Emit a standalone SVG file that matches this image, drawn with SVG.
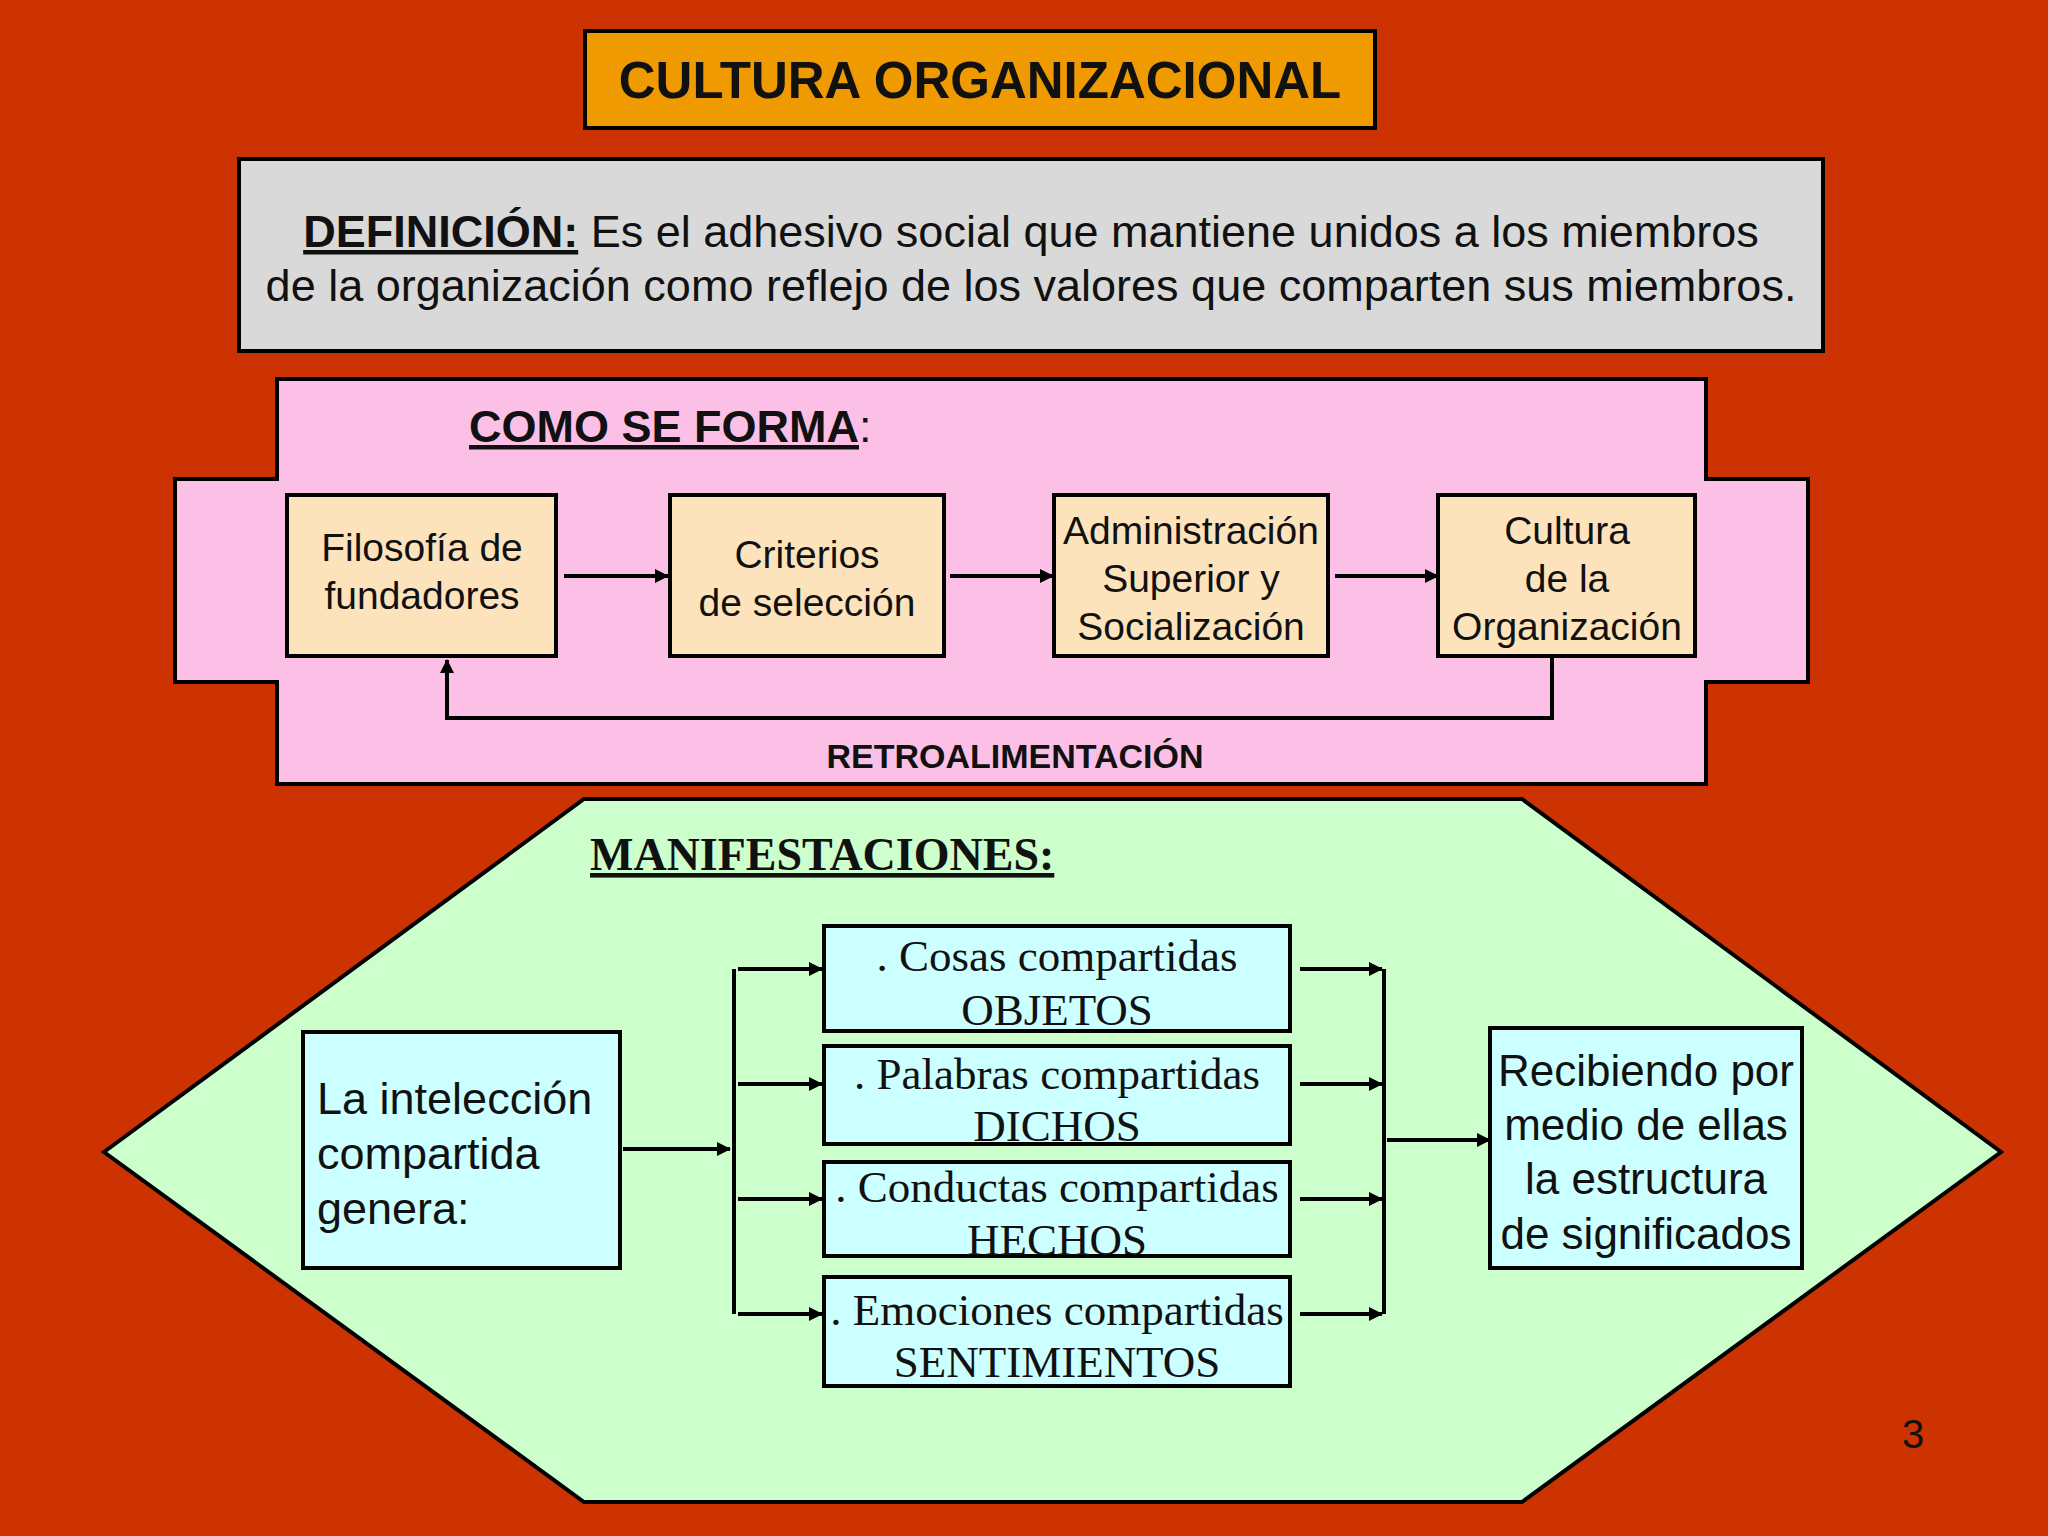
<svg xmlns="http://www.w3.org/2000/svg" width="2048" height="1536" viewBox="0 0 2048 1536">
<style>
.b{stroke:#000;stroke-width:4}
.s{font-family:"Liberation Sans",Arial,sans-serif;fill:#111}
.r{font-family:"Liberation Serif","Times New Roman",serif;fill:#111}
.l{stroke:#000;stroke-width:4;fill:none}
.a{stroke:#000;stroke-width:4;fill:none;marker-end:url(#ah)}
</style>
<defs><marker id="ah" markerWidth="14" markerHeight="14" refX="13" refY="7" orient="auto" markerUnits="userSpaceOnUse"><path d="M0,0 L14,7 L0,14 z" fill="#000"/></marker></defs>
<rect width="2048" height="1536" fill="#CC3300"/>
<g id="title"><rect class="b" x="585" y="31" width="790" height="97" fill="#EE9A00"/><text class="s" x="980" y="98" font-size="51" font-weight="bold" text-anchor="middle">CULTURA ORGANIZACIONAL</text></g>
<g id="definicion"><rect class="b" x="239" y="159" width="1584" height="192" fill="#D9D9D9"/>
<text class="s" x="1031" y="247" font-size="45" text-anchor="middle"><tspan font-weight="bold" text-decoration="underline">DEFINICIÓN:</tspan> Es el adhesivo social que mantiene unidos a los miembros</text>
<text class="s" x="1031" y="301" font-size="45" text-anchor="middle">de la organización como reflejo de los valores que comparten sus miembros.</text></g>
<g id="forma"><polygon class="b" fill="#FCC0E6" points="277,379 1706,379 1706,479 1808,479 1808,682 1706,682 1706,784 277,784 277,682 175,682 175,479 277,479"/>
<text class="s" x="469" y="442" font-size="45" font-weight="bold"><tspan text-decoration="underline">COMO SE FORMA</tspan><tspan font-weight="normal">:</tspan></text>
<text class="s" x="1015" y="768" font-size="34" font-weight="bold" text-anchor="middle">RETROALIMENTACIÓN</text></g>
<g id="n1"><rect class="b" x="287" y="495" width="269" height="161" fill="#FDE3BB"/><text class="s" font-size="39" text-anchor="middle"><tspan x="422" y="561">Filosofía de</tspan><tspan x="422" y="609">fundadores</tspan></text></g>
<g id="n2"><rect class="b" x="670" y="495" width="274" height="161" fill="#FDE3BB"/><text class="s" font-size="39" text-anchor="middle"><tspan x="807" y="568">Criterios</tspan><tspan x="807" y="616">de selección</tspan></text></g>
<g id="n3"><rect class="b" x="1054" y="495" width="274" height="161" fill="#FDE3BB"/><text class="s" font-size="39" text-anchor="middle"><tspan x="1191" y="544">Administración</tspan><tspan x="1191" y="592">Superior y</tspan><tspan x="1191" y="640">Socialización</tspan></text></g>
<g id="n4"><rect class="b" x="1438" y="495" width="257" height="161" fill="#FDE3BB"/><text class="s" font-size="39" text-anchor="middle"><tspan x="1567" y="544">Cultura</tspan><tspan x="1567" y="592">de la</tspan><tspan x="1567" y="640">Organización</tspan></text></g>
<g id="manif"><polygon class="b" fill="#CCFFCC" points="104,1152 584,799 1522,799 2001,1152 1522,1502 584,1502"/>
<text class="r" x="590" y="870" font-size="46" font-weight="bold" text-decoration="underline">MANIFESTACIONES:</text></g>
<g id="m0"><rect class="b" x="303" y="1032" width="317" height="236" fill="#CCFFFF"/><text class="s" font-size="45"><tspan x="317" y="1114">La intelección</tspan><tspan x="317" y="1169">compartida</tspan><tspan x="317" y="1224">genera:</tspan></text></g>
<g id="m1"><rect class="b" x="824" y="926" width="466" height="105" fill="#CCFFFF"/><text class="r" font-size="45" text-anchor="middle"><tspan x="1057" y="971">. Cosas compartidas</tspan><tspan x="1057" y="1025">OBJETOS</tspan></text></g>
<g id="m2"><rect class="b" x="824" y="1046" width="466" height="98" fill="#CCFFFF"/><text class="r" font-size="45" text-anchor="middle"><tspan x="1057" y="1089">. Palabras compartidas</tspan><tspan x="1057" y="1141">DICHOS</tspan></text></g>
<g id="m3"><rect class="b" x="824" y="1162" width="466" height="94" fill="#CCFFFF"/><text class="r" font-size="45" text-anchor="middle"><tspan x="1057" y="1202">. Conductas compartidas</tspan><tspan x="1057" y="1255">HECHOS</tspan></text></g>
<g id="m4"><rect class="b" x="824" y="1277" width="466" height="109" fill="#CCFFFF"/><text class="r" font-size="45" text-anchor="middle"><tspan x="1057" y="1325">. Emociones compartidas</tspan><tspan x="1057" y="1377">SENTIMIENTOS</tspan></text></g>
<g id="m5"><rect class="b" x="1490" y="1028" width="312" height="240" fill="#CCFFFF"/><text class="s" font-size="44" text-anchor="middle"><tspan x="1646" y="1086">Recibiendo por</tspan><tspan x="1646" y="1140">medio de ellas</tspan><tspan x="1646" y="1194">la estructura</tspan><tspan x="1646" y="1249">de significados</tspan></text></g>
<g id="connectors">
<line class="a" x1="564" y1="576" x2="668" y2="576"/>
<line class="a" x1="950" y1="576" x2="1053" y2="576"/>
<line class="a" x1="1335" y1="576" x2="1438" y2="576"/>
<polyline class="a" points="1552,656 1552,718 447,718 447,660"/>
<line class="a" x1="623" y1="1149" x2="730" y2="1149"/>
<line class="l" x1="734" y1="969" x2="734" y2="1314"/>
<line class="a" x1="738" y1="969" x2="822" y2="969"/>
<line class="a" x1="738" y1="1084" x2="822" y2="1084"/>
<line class="a" x1="738" y1="1199" x2="822" y2="1199"/>
<line class="a" x1="738" y1="1314" x2="822" y2="1314"/>
<line class="a" x1="1300" y1="969" x2="1382" y2="969"/>
<line class="a" x1="1300" y1="1084" x2="1382" y2="1084"/>
<line class="a" x1="1300" y1="1199" x2="1382" y2="1199"/>
<line class="a" x1="1300" y1="1314" x2="1382" y2="1314"/>
<line class="l" x1="1384" y1="969" x2="1384" y2="1314"/>
<line class="a" x1="1387" y1="1140" x2="1490" y2="1140"/>
</g>
<text class="s" x="1913" y="1448" font-size="40" text-anchor="middle">3</text>
</svg>
